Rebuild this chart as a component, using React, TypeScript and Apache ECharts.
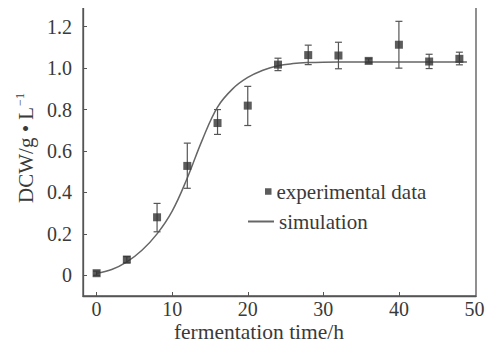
import React, { useEffect, useRef } from "react";
import * as echarts from "echarts";

const expTime = [0, 4, 8, 12, 16, 20, 24, 28, 32, 36, 40, 44, 48];
const expDCW = [0.01, 0.076, 0.28, 0.528, 0.735, 0.819, 1.017, 1.063, 1.061, 1.035, 1.113, 1.032, 1.045];
const errLow = [0.0, 0.06, 0.21, 0.42, 0.68, 0.723, 0.988, 1.017, 0.997, 1.025, 1.0, 0.998, 1.016];
const errHigh = [0.02, 0.09, 0.347, 0.638, 0.8, 0.912, 1.048, 1.111, 1.125, 1.045, 1.226, 1.067, 1.077];

const simTime = [0, 2, 4, 6, 8, 10, 12, 14, 16, 18, 20, 22, 24, 26, 28, 30, 34, 38, 42, 46, 49];
const simDCW = [0.01, 0.028, 0.065, 0.121, 0.2, 0.31, 0.47, 0.655, 0.812, 0.9, 0.955, 0.99, 1.012, 1.022, 1.027, 1.029, 1.03, 1.03, 1.03, 1.03, 1.03];

const xTicks = [0, 10, 20, 30, 40, 50];
const yTicks = [0, 0.2, 0.4, 0.6, 0.8, 1.0, 1.2];

const FONT = "'Liberation Serif', 'Times New Roman', serif";
const TEXT = "#3a3a3a";
const LINE = "#555";

export default function App() {
  const ref = useRef<HTMLDivElement>(null);
  useEffect(() => {
    if (!ref.current) return;
    const chart = echarts.init(ref.current, undefined, { renderer: "svg" });
    const option: any = {
      animation: false,
      backgroundColor: "#fff",
      textStyle: { fontFamily: FONT, color: TEXT },
      grid: {
        left: 83,
        right: 17,
        top: 6,
        bottom: 58,
        show: true,
        borderColor: LINE,
        borderWidth: 1.3,
      },
      xAxis: {
        type: "value",
        min: -1.8,
        max: 50.2,
        axisLine: { show: true, onZero: false, lineStyle: { color: LINE, width: 1.3 } },
        axisTick: { show: true, inside: true, length: 4, customValues: [0, 10, 20, 30, 40], lineStyle: { color: LINE } },
        axisLabel: { customValues: xTicks, fontSize: 20, fontFamily: FONT, color: TEXT, margin: 3 },
        splitLine: { show: false },
      },
      yAxis: {
        type: "value",
        min: -0.1,
        max: 1.3,
        axisLine: { show: true, onZero: false, lineStyle: { color: LINE, width: 1.3 } },
        axisTick: { show: true, inside: true, length: 4, customValues: yTicks, lineStyle: { color: LINE } },
        axisLabel: {
          customValues: yTicks,
          fontSize: 20,
          fontFamily: FONT,
          color: TEXT,
          margin: 11,
          formatter: (v: number) => (Math.abs(v) < 1e-9 ? "0" : v.toFixed(1)),
        },
        splitLine: { show: false },
      },
      legend: [
        {
          data: ["experimental data"],
          left: 260,
          top: 176,
          itemWidth: 6.5,
          itemHeight: 6.5,
          textStyle: { fontSize: 21, fontFamily: FONT, color: TEXT },
        },
        {
          data: ["simulation"],
          left: 242,
          top: 206,
          itemWidth: 26,
          itemHeight: 10,
          itemStyle: { opacity: 0 },
          textStyle: { fontSize: 21, fontFamily: FONT, color: TEXT },
        },
      ],
      graphic: [
        {
          type: "text",
          x: 259,
          y: 332,
          style: {
            text: "fermentation time/h",
            fontSize: 21.5,
            fontFamily: FONT,
            fill: TEXT,
            align: "center",
            verticalAlign: "middle",
          },
        },
        {
          type: "text",
          x: 26,
          y: 148,
          rotation: Math.PI / 2,
          style: {
            text: "DCW/g • L{s|−1}",
            fontSize: 21,
            fontFamily: FONT,
            fill: TEXT,
            align: "center",
            verticalAlign: "middle",
            rich: {
              s: { fontSize: 12, fontFamily: FONT, fill: TEXT, padding: [0, 0, 12, 1] },
            },
          },
        },
      ],
      series: [
        {
          name: "simulation",
          type: "line",
          data: simTime.map((t, i) => [t, simDCW[i]]),
          smooth: 0.4,
          symbol: "none",
          lineStyle: { color: "#666", width: 1.5 },
          itemStyle: { color: "#666" },
          z: 2,
        },
        {
          name: "errorbars",
          type: "custom",
          data: expTime.map((t, i) => [t, errLow[i], errHigh[i]]),
          renderItem: (params: any, api: any) => {
            const x = api.value(0);
            const lo = api.coord([x, api.value(1)]);
            const hi = api.coord([x, api.value(2)]);
            const hw = 3.5;
            const style = { stroke: LINE, lineWidth: 1.2 };
            return {
              type: "group",
              children: [
                { type: "line", shape: { x1: lo[0], y1: lo[1], x2: hi[0], y2: hi[1] }, style },
                { type: "line", shape: { x1: lo[0] - hw, y1: lo[1], x2: lo[0] + hw, y2: lo[1] }, style },
                { type: "line", shape: { x1: hi[0] - hw, y1: hi[1], x2: hi[0] + hw, y2: hi[1] }, style },
              ],
            };
          },
          z: 3,
        },
        {
          name: "experimental data",
          type: "scatter",
          data: expTime.map((t, i) => [t, expDCW[i]]),
          symbol: "rect",
          symbolSize: 8,
          itemStyle: { color: "#333" },
          z: 4,
        },
      ],
    };
    chart.setOption(option);
    return () => chart.dispose();
  }, []);
  return <div ref={ref} style={{ width: 493, height: 354, margin: -8 }} />;
}
